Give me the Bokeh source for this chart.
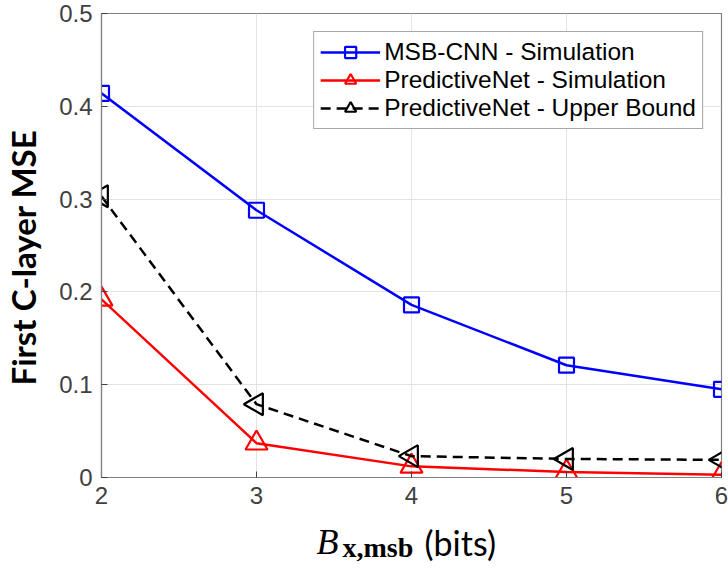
import numpy as np
from bokeh.plotting import figure
from bokeh.models import Range1d, FixedTicker, Legend
from bokeh.layouts import column
from bokeh.core.properties import value
from bokeh.embed import file_html
from bokeh.resources import INLINE

bits = [2, 3, 4, 5, 6]
msb_cnn_sim = [0.414, 0.288, 0.186, 0.121, 0.095]
pnet_sim = [0.192, 0.037, 0.012, 0.006, 0.003]
pnet_bound = [0.303, 0.079, 0.023, 0.020, 0.019]
x_ticks = [2, 3, 4, 5, 6]
y_ticks = [0, 0.1, 0.2, 0.3, 0.4, 0.5]
y_tick_labels = {0: "0", 0.1: "0.1", 0.2: "0.2", 0.3: "0.3", 0.4: "0.4", 0.5: "0.5"}
x_label_parts = ["B", "x,msb", "(bits)"]

TOP_H = 517
p = figure(frame_width=620, frame_height=464, output_backend="svg", toolbar_location=None,
           x_range=Range1d(2, 6), y_range=Range1d(0, 0.5),
           min_border_left=101, min_border_right=7, min_border_top=13,
           min_border_bottom=TOP_H - 13 - 464)
p.background_fill_color = "white"
p.border_fill_color = "white"
p.outline_line_color = "#808080"
p.outline_line_width = 1.2

for ax in (p.xaxis[0], p.yaxis[0]):
    ax.axis_line_color = "#808080"
    ax.axis_line_width = 1.2
    ax.major_tick_in = 6
    ax.major_tick_out = 0
    ax.minor_tick_line_color = None
    ax.major_tick_line_color = "#404040"
    ax.major_label_text_font = "Liberation Sans"
    ax.major_label_text_font_size = "24px"
    ax.major_label_text_color = "#404040"

p.xaxis.ticker = FixedTicker(ticks=x_ticks)
p.yaxis.ticker = FixedTicker(ticks=y_ticks)
p.yaxis.major_label_overrides = y_tick_labels
p.xaxis.major_label_standoff = 9
p.yaxis.major_label_standoff = 9

p.yaxis.axis_label = "First C-layer MSE\u00a0\u00a0\u00a0"
p.yaxis.axis_label_text_font = "Lato"
p.yaxis.axis_label_text_font_style = "bold"
p.yaxis.axis_label_text_font_size = "33px"
p.yaxis.axis_label_text_color = "black"
p.yaxis.axis_label_standoff = 13

p.xgrid.grid_line_color = "#e3e3e3"
p.ygrid.grid_line_color = "#e3e3e3"
p.xgrid.grid_line_width = 1
p.ygrid.grid_line_width = 1

r1l = p.line(bits, msb_cnn_sim, line_color="#0000ff", line_width=2.5)
r1m = p.scatter(bits, msb_cnn_sim, marker="square", size=15, line_color="#0000ff",
                line_width=2.2, fill_alpha=0)
r2l = p.line(bits, pnet_sim, line_color="#ff0000", line_width=2.5)
r2m = p.scatter(bits, pnet_sim, marker="triangle", size=22, line_color="#ff0000",
                line_width=2.2, fill_alpha=0)
r3l = p.line(bits, pnet_bound, line_color="black", line_width=2.5, line_dash="10 6")
r3m = p.scatter(bits, pnet_bound, marker="triangle", angle=np.pi / 2, size=22,
                line_color="black", line_width=2.2, fill_alpha=0)

legend = Legend(items=[("MSB-CNN - Simulation", [r1l, r1m]),
                       ("PredictiveNet - Simulation", [r2l, r2m]),
                       ("PredictiveNet - Upper Bound", [r3l, r3m])],
                location="top_right")
legend.margin = 18
legend.padding = 6
legend.spacing = 0
legend.glyph_width = 60
legend.glyph_height = 28
legend.label_height = 28
legend.label_standoff = 4
legend.label_text_font = "Liberation Sans"
legend.label_text_font_size = "24.5px"
legend.label_text_color = "black"
legend.border_line_color = "#505050"
legend.border_line_width = 1.2
legend.background_fill_color = "white"
legend.background_fill_alpha = 1
p.add_layout(legend, "center")

# strip below the plot carrying the x-axis label (page pixel coordinates)
q = figure(frame_width=620, frame_height=569 - TOP_H, output_backend="svg", toolbar_location=None,
           x_range=Range1d(101, 721), y_range=Range1d(569, TOP_H),
           min_border_left=101, min_border_right=7, min_border_top=0, min_border_bottom=0,
           x_axis_type=None, y_axis_type=None)
q.outline_line_color = None
q.grid.visible = False
q.background_fill_color = "white"
q.border_fill_color = "white"
q.text(x=[316], y=[541], text=[x_label_parts[0]], text_font=value("Liberation Serif"),
       text_font_style="italic", text_font_size="36px", text_color="black",
       text_baseline="alphabetic", text_align="left")
q.text(x=[342], y=[547], text=[x_label_parts[1]], text_font=value("Liberation Serif"),
       text_font_style="bold", text_font_size="28px", text_color="black",
       text_baseline="alphabetic", text_align="left")
q.text(x=[424], y=[542], text=[x_label_parts[2]], text_font=value("Lato"),
       text_font_size="34px", text_color="black",
       text_baseline="alphabetic", text_align="left")

layout = column(p, q, spacing=0)
open("out.html", "w").write(file_html(layout, INLINE))
